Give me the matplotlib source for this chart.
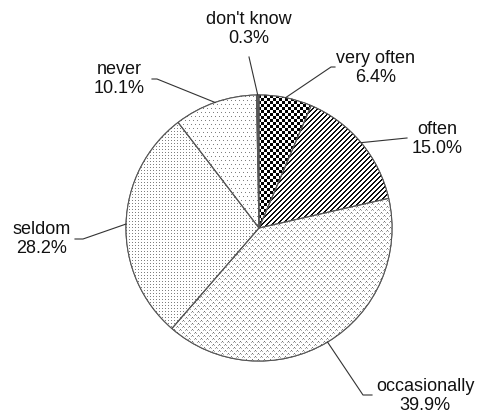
import matplotlib.pyplot as plt
import numpy as np

# data
labels = ["very often", "often", "occasionally", "seldom", "never", "don't know"]
shares = [6.4, 15.0, 39.9, 28.2, 10.1, 0.3]

# fill texture for each slice
textures = ['checker', 'stripes', 'crosses', 'fine_dots', 'dots', 'solid']

# label placement in pixels (text centre, line start points)
cx, cy, rad = 259, 228, 133
text_pos = [(376, 68), (437, 139), (425, 396), (42, 239), (119, 79), (249, 29)]
line_pts = [[(335, 67), (331, 67)],
            [(407, 138)],
            [(372, 395), (363, 395)],
            [(75, 239), (83, 239)],
            [(152, 79), (157, 79)],
            [(249, 57)]]


def px(x, y):
    return (x - cx) / rad, (cy - y) / rad


def make_texture(kind, n):
    i, j = np.mgrid[0:n, 0:n]
    g = np.ones((n, n))
    if kind == 'checker':
        g[((i // 3) + (j // 3)) % 2 == 0] = 0.0
    elif kind == 'stripes':
        g[(i + j) % 5 < 2] = 0.05
    elif kind == 'crosses':
        a = (i % 6 == 0) & (j % 6 == 0)
        b = (i % 6 == 3) & (j % 6 == 3)
        a2 = (i % 6 == 1) & (j % 6 == 1)
        b2 = (i % 6 == 4) & (j % 6 == 4)
        a3 = (i % 6 == 1) & (j % 6 == 5)
        b3 = (i % 6 == 4) & (j % 6 == 2)
        g[a | b] = 0.45
        g[a2 | b2 | a3 | b3] = 0.68
    elif kind == 'fine_dots':
        g[(i % 3 == 0) & (j % 3 == 0)] = 0.5
    elif kind == 'dots':
        a = (i % 8 == 0) & (j % 4 == 0)
        b = (i % 8 == 4) & (j % 4 == 2)
        g[a | b] = 0.5
    elif kind == 'solid':
        g[:] = 0.35
    return np.dstack([g, g, g])


plt.rcParams['font.family'] = ['Liberation Sans', 'DejaVu Sans']

fig = plt.figure(figsize=(4.78, 4.20), dpi=100)
ax = fig.add_axes([0, 0, 1, 1])

wedges, _ = ax.pie(shares, startangle=90, counterclock=False, radius=1,
                   colors=['white'] * len(shares),
                   wedgeprops=dict(edgecolor='#555555', linewidth=0.8))

n = 272
half = n / 2 / rad
for w, kind in zip(wedges, textures):
    im = ax.imshow(make_texture(kind, n), extent=(-half, half, -half, half),
                   interpolation='nearest', zorder=1.5)
    im.set_clip_path(w)

# outlines on top of the textures
ax.pie(shares, startangle=90, counterclock=False, radius=1,
       colors=['none'] * len(shares),
       wedgeprops=dict(edgecolor='#555555', linewidth=0.8, zorder=2))

for w, lab, val, tp, lp in zip(wedges, labels, shares, text_pos, line_pts):
    ang = np.deg2rad((w.theta1 + w.theta2) / 2)
    ex, ey = np.cos(ang), np.sin(ang)
    pts = [px(*p) for p in lp] + [(ex, ey)]
    xs, ys = zip(*pts)
    ax.plot(xs, ys, color='#333333', lw=0.8, zorder=3)
    tx, ty = px(*tp)
    ax.text(tx, ty, f"{lab}\n{val:.1f}%", ha='center', va='center',
            fontsize=13, linespacing=1.12, color='#111111')

ax.set_xlim(-cx / rad, (478 - cx) / rad)
ax.set_ylim((cy - 420) / rad, cy / rad)
ax.axis('off')

fig.savefig('out.png', dpi=100)
